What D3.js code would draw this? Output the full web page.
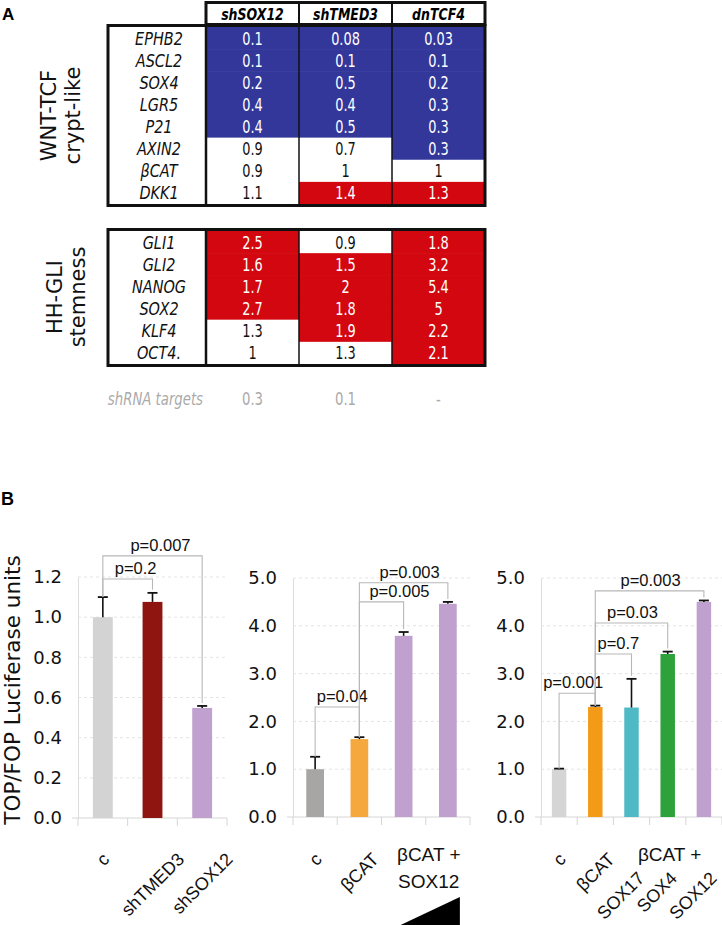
<!DOCTYPE html>
<html><head><meta charset="utf-8">
<script src="https://cdn.jsdelivr.net/npm/d3@7"></script>
<style>body{margin:0;background:#fff}svg{display:block}</style>
</head><body><svg id="c" width="722" height="925"></svg>
<script>
// ================= DATA =================
// Panel A: fold-change table
const conditions = ["shSOX12", "shTMED3", "dnTCF4"];
const wntGenes = ["EPHB2", "ASCL2", "SOX4", "LGR5", "P21", "AXIN2", "βCAT", "DKK1"];
const wntValues = [[0.1, 0.08, 0.03], [0.1, 0.1, 0.1], [0.2, 0.5, 0.2], [0.4, 0.4, 0.3],
                   [0.4, 0.5, 0.3], [0.9, 0.7, 0.3], [0.9, 1, 1], [1.1, 1.4, 1.3]];
// -1 = down (blue), 0 = unchanged (white), 1 = up (red)
const wntCalls = [[-1, -1, -1], [-1, -1, -1], [-1, -1, -1], [-1, -1, -1],
                  [-1, -1, -1], [0, 0, -1], [0, 0, 0], [0, 1, 1]];
const hhGenes = ["GLI1", "GLI2", "NANOG", "SOX2", "KLF4", "OCT4."];
const hhValues = [[2.5, 0.9, 1.8], [1.6, 1.5, 3.2], [1.7, 2, 5.4], [2.7, 1.8, 5], [1.3, 1.9, 2.2], [1, 1.3, 2.1]];
const hhCalls = [[1, 0, 1], [1, 1, 1], [1, 1, 1], [1, 1, 1], [0, 1, 1], [0, 0, 1]];
const groupLabels = [["WNT-TCF", "crypt-like"], ["HH-GLI", "stemness"]];
const shRNATargetLabel = "shRNA targets";
const shRNATargets = ["0.3", "0.1", "-"];

// Panel B: TOP/FOP luciferase
const p1Cats = ["c", "shTMED3", "shSOX12"];
const p1Values = [1.0, 1.076, 0.548];
const p1Errors = [0.1, 0.045, 0.01];
const p1Ticks = [0, 0.2, 0.4, 0.6, 0.8, 1.0, 1.2];
const p1Tests = [[0, 1, 1.19, "p=0.2"], [0, 2, 1.305, "p=0.007"]];

const p2Cats = ["c", "βCAT", "βCAT + SOX12 low", "βCAT + SOX12 high"];
const p2Labels = ["c", "βCAT", "", ""];
const p2Values = [1.0, 1.63, 3.79, 4.46];
const p2Errors = [0.26, 0.04, 0.08, 0.04];
const p2Ticks = [0, 1, 2, 3, 4, 5];
const p2Tests = [[0, 1, 2.30, "p=0.04"], [1, 2, 4.50, "p=0.005"], [1, 3, 4.90, "p=0.003"]];

const p3Cats = ["c", "βCAT", "SOX17", "SOX4", "SOX12"];
const p3Values = [1.0, 2.30, 2.29, 3.41, 4.50];
const p3Errors = [0.012, 0.03, 0.6, 0.05, 0.03];
const p3Ticks = [0, 1, 2, 3, 4, 5];
const p3Tests = [[0, 1, 2.59, "p=0.001"], [1, 2, 3.41, "p=0.7"], [1, 3, 4.06, "p=0.03"], [1, 4, 4.73, "p=0.003"]];

const yTitle = "TOP/FOP Luciferase units";

// ================= STYLE =================
const BLUE = "#33379a", RED = "#d2070f";
const callFill = v => v < 0 ? BLUE : (v > 0 ? RED : "#ffffff");
const p1Colors = ["#d3d3d3", "#8e1510", "#c0a0cf"];
const p2Colors = ["#a8a6a4", "#f5a83d", "#c0a0cf", "#c0a0cf"];
const p3Colors = ["#d5d5d5", "#f39b16", "#4fb9c5", "#2ea23a", "#c0a0cf"];
const FT = "DejaVu Sans", FP = "Liberation Sans";

const svg = d3.select("#c");

// ================= PANEL A =================
svg.append("text").attr("x", 2).attr("y", 20).text("A")
  .attr("font-family", FP).attr("font-weight", "bold").attr("font-size", 17);

const colX = d3.scaleBand().domain(conditions).range([206, 485]);
const labelCol = [108, 206];
const gA = svg.append("g");

// header
gA.append("rect").attr("x", 206).attr("y", 3).attr("width", 279).attr("height", 21).attr("fill", "#fff");
gA.selectAll("text.hdr").data(conditions).join("text")
  .attr("transform", d => `translate(${colX(d) + colX.bandwidth() / 2},20) scale(0.76,1)`)
  .attr("text-anchor", "middle").attr("font-family", FT).attr("font-weight", "bold")
  .attr("font-style", "italic").attr("font-size", 16.5).text(d => d);

function block(genes, values, calls, top, bottom) {
  const rows = d3.scaleBand().domain(genes).range([top, bottom]);
  const g = gA.append("g");
  g.append("rect").attr("x", labelCol[0]).attr("y", top).attr("width", 377).attr("height", bottom - top).attr("fill", "#fff");
  const cells = [];
  genes.forEach((gene, i) => conditions.forEach((c, j) => cells.push({gene, c, v: values[i][j], call: calls[i][j]})));
  g.selectAll("rect.cell").data(cells).join("rect")
    .attr("x", d => colX(d.c)).attr("y", d => rows(d.gene))
    .attr("width", colX.bandwidth()).attr("height", rows.bandwidth() + 0.6)
    .attr("fill", d => callFill(d.call));
  g.selectAll("text.val").data(cells).join("text")
    .attr("transform", d => `translate(${colX(d.c) + colX.bandwidth() / 2},${rows(d.gene) + rows.bandwidth() / 2 + 6.5}) scale(0.76,1)`)
    .attr("text-anchor", "middle").attr("font-family", FT).attr("font-size", 17)
    .attr("fill", d => d.call === 0 ? "#111" : "#fff").text(d => String(d.v));
  g.selectAll("text.gene").data(genes).join("text")
    .attr("transform", d => `translate(159,${rows(d) + rows.bandwidth() / 2 + 6.5}) scale(0.85,1)`)
    .attr("text-anchor", "middle").attr("font-family", FT).attr("font-style", "italic")
    .attr("font-size", 17).attr("fill", "#111").text(d => d);
  // borders
  g.append("line").attr("x1", 206).attr("x2", 206).attr("y1", top - 2).attr("y2", bottom + 2).attr("stroke", "#111").attr("stroke-width", 2.5);
  [1, 2].forEach(k => g.append("line").attr("x1", colX(conditions[k])).attr("x2", colX(conditions[k]))
    .attr("y1", top).attr("y2", bottom).attr("stroke", "#111").attr("stroke-width", 1.5));
  g.append("rect").attr("x", labelCol[0]).attr("y", top - 1.5).attr("width", 377).attr("height", bottom - top + 3)
    .attr("fill", "none").attr("stroke", "#111").attr("stroke-width", 3);
  return rows;
}
block(wntGenes, wntValues, wntCalls, 27, 204);
block(hhGenes, hhValues, hhCalls, 231, 364);

// header borders
[1, 2].forEach(k => gA.append("line").attr("x1", colX(conditions[k])).attr("x2", colX(conditions[k]))
  .attr("y1", 3).attr("y2", 24).attr("stroke", "#111").attr("stroke-width", 2));
gA.append("rect").attr("x", 206).attr("y", 2.5).attr("width", 279).attr("height", 22)
  .attr("fill", "none").attr("stroke", "#111").attr("stroke-width", 3);

// group labels (rotated)
const groupPos = [[115.5, 56, 80], [297, 62, 85]];
groupLabels.forEach((lines, i) => {
  lines.forEach((t, k) => {
    gA.append("text").attr("transform", `translate(${groupPos[i][1 + k]},${groupPos[i][0]}) rotate(-90)`)
      .attr("text-anchor", "middle").attr("font-family", FT).attr("font-size", 21).attr("fill", "#111").text(t);
  });
});

// shRNA targets row
gA.append("text").attr("transform", "translate(203,405) scale(0.78,1)").attr("text-anchor", "end")
  .attr("font-family", FT).attr("font-style", "italic").attr("font-size", 17).attr("fill", "#aaaaaa").text(shRNATargetLabel);
gA.selectAll("text.sh").data(shRNATargets).join("text")
  .attr("transform", (d, i) => `translate(${colX(conditions[i]) + colX.bandwidth() / 2},405) scale(0.78,1)`)
  .attr("text-anchor", "middle").attr("font-family", FT).attr("font-size", 17).attr("fill", "#aaaaaa").text(d => d);

// ================= PANEL B =================
svg.append("text").attr("x", 1).attr("y", 505).text("B")
  .attr("font-family", FP).attr("font-weight", "bold").attr("font-size", 18);
svg.append("text").attr("transform", "translate(20,690) rotate(-90)").attr("text-anchor", "middle")
  .attr("font-family", FT).attr("font-size", 21.5).attr("fill", "#111").text(yTitle);

function barPanel(cfg) {
  const g = svg.append("g");
  const x = d3.scaleBand().domain(cfg.cats).range(cfg.xRange).paddingInner(0.6).paddingOuter(0.3);
  const y = d3.scaleLinear().domain(cfg.yDomain).range(cfg.yRange);
  const step = x.step();
  // grid
  g.selectAll("line.grid").data(cfg.ticks.filter(t => t > 0)).join("line")
    .attr("x1", cfg.xRange[0]).attr("x2", cfg.xRange[1]).attr("y1", d => y(d)).attr("y2", d => y(d))
    .attr("stroke", "#e4e4e4").attr("stroke-dasharray", "3,3");
  // y axis
  const ax = g.append("g").attr("transform", `translate(${cfg.xRange[0]},0)`)
    .call(d3.axisLeft(y).tickValues(cfg.ticks).tickFormat(d3.format(".1f")).tickSize(0).tickPadding(16));
  ax.select(".domain").attr("stroke", "#dcdcdc");
  ax.selectAll("text").attr("font-family", FT).attr("font-size", 18).attr("fill", "#111");
  // x baseline + tick marks at band boundaries
  g.append("line").attr("x1", cfg.xRange[0] - 6).attr("x2", cfg.xRange[1]).attr("y1", y(0)).attr("y2", y(0)).attr("stroke", "#d6d6d6");
  g.selectAll("line.xt").data(d3.range(cfg.cats.length + 1)).join("line")
    .attr("x1", i => cfg.xRange[0] + i * step).attr("x2", i => cfg.xRange[0] + i * step)
    .attr("y1", y(0)).attr("y2", y(0) + 8).attr("stroke", "#d6d6d6");
  // bars
  g.selectAll("rect.bar").data(cfg.cats).join("rect")
    .attr("x", d => x(d)).attr("width", x.bandwidth())
    .attr("y", (d, i) => y(cfg.values[i])).attr("height", (d, i) => y(0) - y(cfg.values[i]))
    .attr("fill", (d, i) => cfg.colors[i]);
  // error bars
  const cx = i => x(cfg.cats[i]) + x.bandwidth() / 2;
  cfg.cats.forEach((d, i) => {
    const t = y(cfg.values[i] + cfg.errors[i]);
    g.append("line").attr("x1", cx(i)).attr("x2", cx(i)).attr("y1", y(cfg.values[i])).attr("y2", t).attr("stroke", "#111").attr("stroke-width", 1.6);
    g.append("line").attr("x1", cx(i) - 5).attr("x2", cx(i) + 5).attr("y1", t).attr("y2", t).attr("stroke", "#111").attr("stroke-width", 1.8);
  });
  // significance brackets
  cfg.tests.forEach(([a, b, lvl, label], k) => {
    const yl = y(lvl);
    const ya = y(cfg.values[a] + cfg.errors[a]);
    const yb = y(cfg.values[b] + cfg.errors[b]) - 3;
    g.append("path").attr("d", `M${cx(a)},${ya}V${yl}H${cx(b)}V${yb}`)
      .attr("fill", "none").attr("stroke", "#b8b8b8").attr("stroke-width", 1.1);
    g.append("text").attr("x", (cx(a) + cx(b)) / 2 + (cfg.labelShift ? cfg.labelShift[k] : 0)).attr("y", yl - 5)
      .attr("text-anchor", "middle").attr("font-family", FP).attr("font-size", 16.5).attr("fill", "#111").text(label);
  });
  // category labels: rotated -45, centred under the bar, upper end at a fixed height
  cfg.cats.forEach((d, i) => {
    const lab = cfg.labels ? cfg.labels[i] : d;
    if (!lab) return;
    const row = cfg.labelRow ? cfg.labelRow[i] : 0;
    const yTop = row === 0 ? 856 : 875;
    const dx = row === 0 ? 0 : -11;
    const t = g.append("text").attr("text-anchor", "middle").attr("dy", "0.35em")
      .attr("font-family", FP).attr("font-size", 18).attr("fill", "#111").text(lab);
    const L = t.node().getComputedTextLength();
    t.attr("transform", `translate(${cx(i) + dx},${yTop + L * 0.3536}) rotate(-45)`);
  });
  return {x, y, cx};
}

barPanel({cats: p1Cats, values: p1Values, errors: p1Errors, ticks: p1Ticks, tests: p1Tests,
  colors: p1Colors, xRange: [78, 227], yDomain: [0, 1.2], yRange: [818, 577], labelShift: [8, 8]});

const P2 = barPanel({cats: p2Cats, labels: p2Labels, values: p2Values, errors: p2Errors, ticks: p2Ticks, tests: p2Tests,
  colors: p2Colors, xRange: [293, 470], yDomain: [0, 5], yRange: [817, 578], labelShift: [5, 18, 6]});
{
  const mid = (P2.cx(2) + P2.cx(3)) / 2 + 3;
  svg.append("text").attr("x", mid).attr("y", 861).attr("text-anchor", "middle")
    .attr("font-family", FP).attr("font-size", 19).attr("fill", "#111").text("βCAT +");
  svg.append("text").attr("x", mid).attr("y", 888).attr("text-anchor", "middle")
    .attr("font-family", FP).attr("font-size", 19).attr("fill", "#111").text("SOX12");
  // increasing-dose wedge
  const x0 = P2.cx(2) - 3, x1 = P2.cx(3) + 12;
  svg.append("path").attr("d", `M${x0},925L${x1},897L${x1},925Z`).attr("fill", "#000");
}

const P3 = barPanel({cats: p3Cats, values: p3Values, errors: p3Errors, ticks: p3Ticks, tests: p3Tests,
  colors: p3Colors, xRange: [541, 722], yDomain: [0, 5], yRange: [817, 578], labelRow: [0, 0, 1, 1, 1],
  labelShift: [-4, 5, 1, 1]});
svg.append("text").attr("x", (P3.cx(2) + P3.cx(4)) / 2 + 2).attr("y", 861).attr("text-anchor", "middle")
  .attr("font-family", FP).attr("font-size", 19).attr("fill", "#111").text("βCAT +");
</script>
</body></html>
